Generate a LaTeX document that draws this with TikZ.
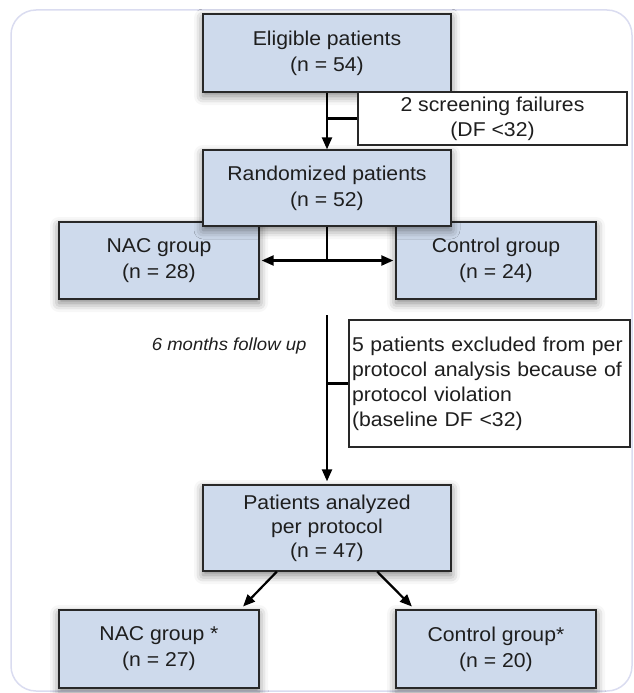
\documentclass[tikz,border=0pt]{standalone}
\usepackage{fontspec}
\setmainfont[FakeStretch=1.06]{Liberation Sans}
\usetikzlibrary{arrows.meta,shadows.blur}

\begin{document}
\begin{tikzpicture}[x=1pt,y=-1pt,
    box/.style={draw=boxline, fill=boxfill, line width=1.3pt, inner sep=0pt,
        align=center, text=txt, font=\fontsize{20}{26}\selectfont,
        blur shadow={shadow xshift=0pt, shadow yshift=-4pt,
            shadow blur radius=9pt, shadow opacity=50}},
    note/.style={draw=boxline, fill=white, line width=1.3pt, inner sep=0pt,
        text=txt, font=\fontsize{20}{25}\selectfont},
    arr/.style={-{Triangle[length=12pt,width=10pt]}, line width=2.2pt},
    link/.style={line width=2.2pt}]
    % Define colors
    \definecolor{boxfill}{RGB}{206, 218, 236}
    \definecolor{boxline}{RGB}{40, 40, 40}
    \definecolor{txt}{RGB}{30, 30, 30}
    \definecolor{framecol}{RGB}{218, 220, 240}

    \useasboundingbox (0,0) rectangle (634,693);

    % Outer frame
    \draw[framecol, line width=1.5pt, rounded corners=25pt] (11,10) rectangle (632,691);

    % Boxes of the first part
    \node[box, minimum width=200pt, minimum height=77pt] (nacA) at (159,260.5) {NAC group\\(n = 28)};
    \node[box, minimum width=200pt, minimum height=77pt] (ctrlA) at (496,260.5) {Control group\\(n = 24)};
    \node[box, minimum width=248pt, minimum height=78pt] (elig) at (327,53) {Eligible patients\\(n = 54)};
    \node[note, minimum width=269pt, minimum height=53pt, align=center] (screen) at (492.5,118.5) {2 screening failures\\(DF <32)};
    \node[box, minimum width=248pt, minimum height=76pt] (rand) at (327,188) {Randomized patients\\(n = 52)};

    % Follow up
    \node[note, text width=275pt, inner xsep=3pt, minimum height=127pt, align=left] (excl) at (489.5,383.5)
        {5 patients excluded from per\\protocol analysis because of\\protocol violation\\(baseline DF <32)};
    \node[anchor=east, text=txt, font=\itshape\fontsize{17.5}{20}\selectfont] (fulabel) at (310,346) {6 months follow up};

    % Boxes of the per protocol part
    \node[box, minimum width=248pt, minimum height=86pt, font=\fontsize{20}{24}\selectfont] (pp) at (327,528)
        {Patients analyzed\\per protocol\\(n = 47)};
    \node[box, minimum width=200pt, minimum height=78pt] (nacB) at (159,649) {NAC group *\\(n = 27)};
    \node[box, minimum width=200pt, minimum height=78pt] (ctrlB) at (496,649) {Control group*\\(n = 20)};

    % Connectors
    \coordinate (split) at (rand.south |- nacA.east);
    \coordinate (fu) at (327,315);
    \draw[arr] (elig.south) -- (rand.north);
    \draw[link] (elig.south |- screen.west) -- (screen.west);
    \draw[link] (rand.south) -- (split);
    \draw[arr, shorten >=2pt] (split) -- (nacA.east);
    \draw[arr, shorten >=2pt] (split) -- (ctrlA.west);
    \draw[arr, shorten >=3pt] (fu) -- (pp.north);
    \draw[link] (fu |- excl.west) -- (excl.west);
    \draw[arr, shorten >=4pt] (pp.221) -- (nacB.26);
    \draw[arr, shorten >=4pt] (pp.319) -- (ctrlB.154);
\end{tikzpicture}
\end{document}
